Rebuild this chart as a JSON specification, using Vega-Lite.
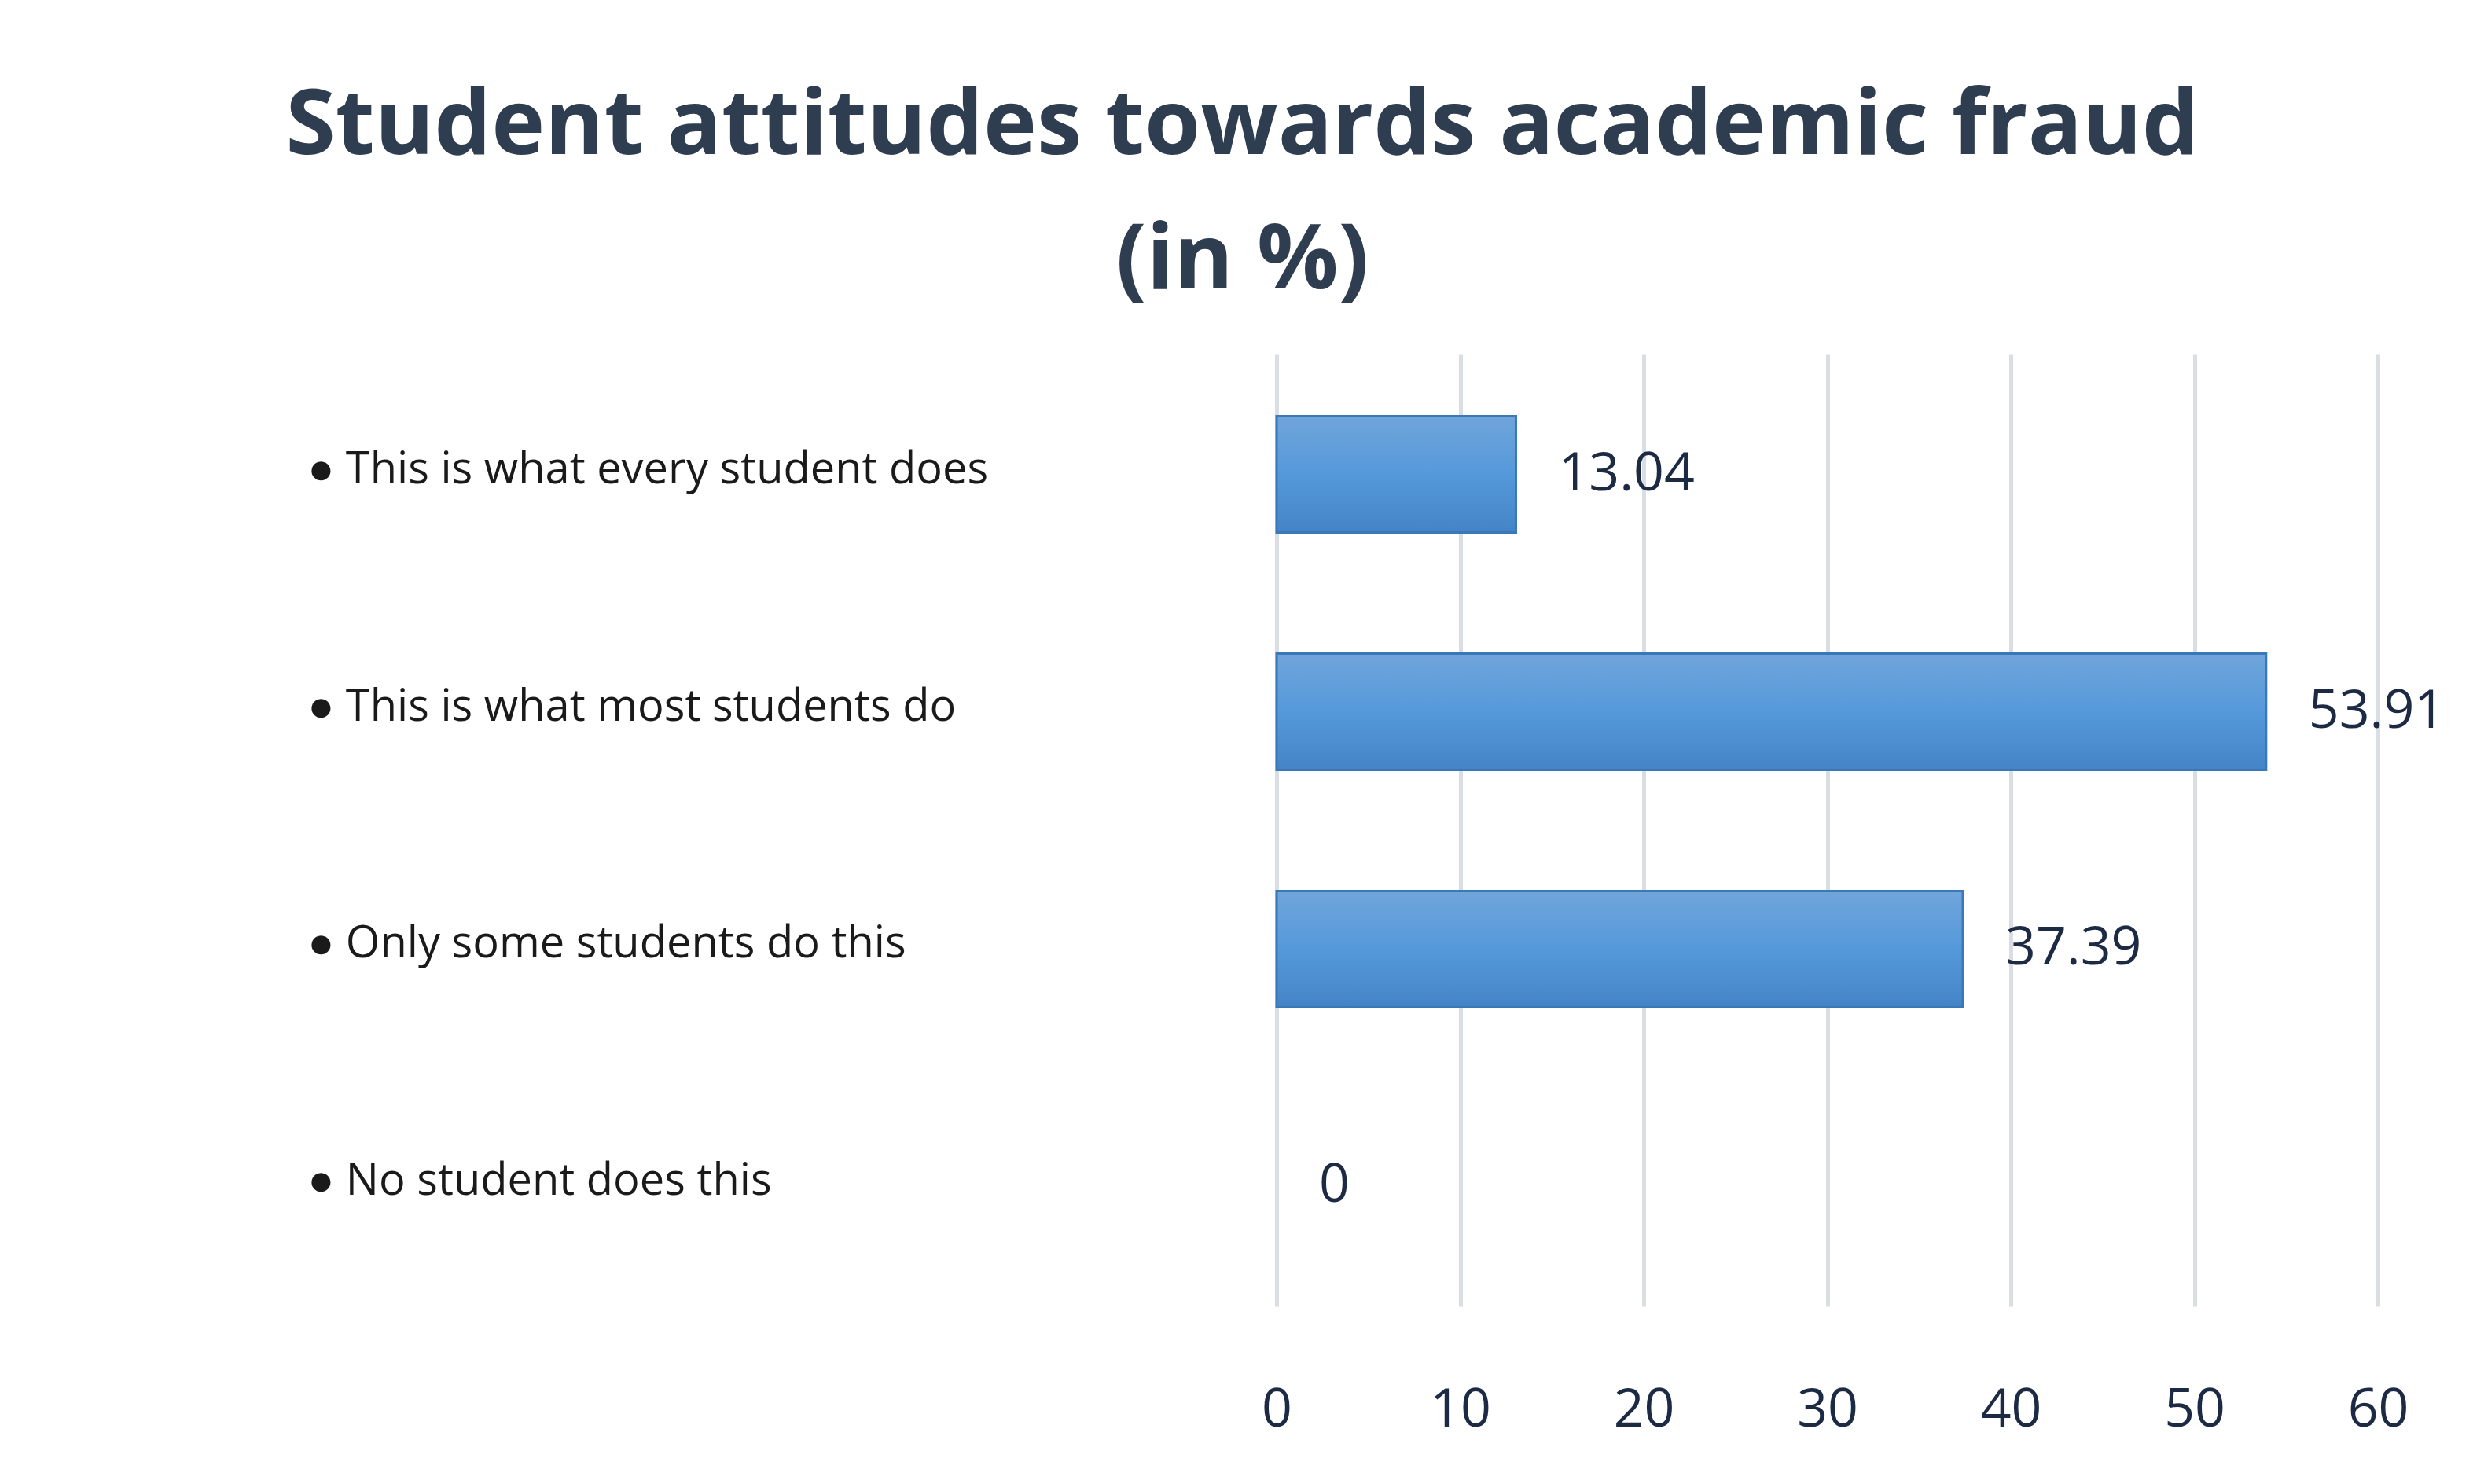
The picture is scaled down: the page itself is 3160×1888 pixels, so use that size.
{
  "$schema": "https://vega.github.io/schema/vega-lite/v6.json",
  "width": 1401,
  "height": 1211,
  "autosize": {"type": "none"},
  "padding": {"left": 1624, "top": 451, "right": 135, "bottom": 226},
  "background": "white",
  "config": {
    "font": "Open Sans",
    "view": {"stroke": null}
  },
  "title": {
    "text": ["Student attitudes towards academic fraud", "(in %)"],
    "fontSize": 115,
    "fontWeight": "bold",
    "color": "#2e3d50",
    "lineHeight": 171,
    "anchor": "middle",
    "frame": "group",
    "dx": -744,
    "offset": 60
  },
  "data": {
    "values": [
      {"response": "This is what every student does", "percent": 13.04},
      {"response": "This is what most students do", "percent": 53.91},
      {"response": "Only some students do this", "percent": 37.39},
      {"response": "No student does this", "percent": 0}
    ]
  },
  "encoding": {
    "y": {
      "field": "response",
      "type": "nominal",
      "sort": null,
      "scale": {"paddingInner": 0.51, "paddingOuter": 0.26},
      "axis": {
        "title": null,
        "domain": false,
        "ticks": false,
        "labelAlign": "left",
        "labelPadding": 1233,
        "labelLimit": 1200,
        "labelFontSize": 56,
        "labelColor": "#1a1a1a",
        "labelOffset": -6,
        "labelExpr": "'● ' + datum.label"
      }
    },
    "x": {
      "field": "percent",
      "type": "quantitative",
      "scale": {"domain": [0, 60], "nice": false},
      "axis": {
        "title": null,
        "values": [0, 10, 20, 30, 40, 50, 60],
        "grid": true,
        "gridColor": "#d9dde4",
        "gridWidth": 5,
        "domain": false,
        "ticks": false,
        "labelPadding": 98,
        "labelFontSize": 68,
        "labelColor": "#1c2a44",
        "labelFlush": false
      }
    }
  },
  "layer": [
    {
      "mark": {
        "type": "bar",
        "color": {
          "gradient": "linear",
          "x1": 0, "y1": 0, "x2": 0, "y2": 1,
          "stops": [
            {"offset": 0, "color": "#70a5da"},
            {"offset": 0.5, "color": "#5599db"},
            {"offset": 1, "color": "#4484c6"}
          ]
        },
        "stroke": "#3a78b8",
        "strokeWidth": 3
      },
      "encoding": {
        "strokeOpacity": {
          "condition": {"test": "datum.percent == 0", "value": 0},
          "value": 1
        }
      }
    },
    {
      "mark": {
        "type": "text",
        "align": "left",
        "baseline": "middle",
        "dx": 54,
        "fontSize": 68,
        "color": "#1c2a44"
      },
      "encoding": {
        "text": {"field": "percent", "type": "quantitative"}
      }
    }
  ]
}
